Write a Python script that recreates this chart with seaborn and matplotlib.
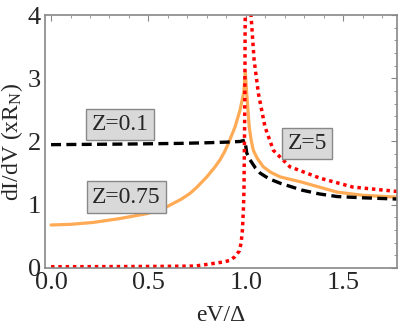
import pandas as pd
import matplotlib
matplotlib.use('Agg')
import matplotlib.pyplot as plt
import seaborn as sns
from matplotlib.ticker import MultipleLocator, FormatStrFormatter

# Values (energy in units of the gap)
e_z01 = [0.0, 0.2, 0.4, 0.66, 0.8, 0.9, 0.97, 0.996, 1.005, 1.022, 1.05, 1.074,
         1.12, 1.177, 1.29, 1.38, 1.469, 1.6, 1.777]
g_z01 = [1.95, 1.955, 1.96, 1.97, 1.98, 1.99, 2.0, 2.02, 1.82, 1.71, 1.58, 1.5,
         1.41, 1.34, 1.23, 1.17, 1.13, 1.11, 1.09]

e_z075 = [0.0, 0.1, 0.216, 0.35, 0.493, 0.577, 0.627, 0.67, 0.714, 0.75, 0.8,
          0.84, 0.868, 0.89, 0.911, 0.945, 0.971, 0.99, 0.998, 1.005, 1.018,
          1.028, 1.039, 1.06, 1.09, 1.13, 1.177, 1.285, 1.469, 1.6, 1.777]
g_z075 = [0.68, 0.69, 0.72, 0.78, 0.86, 0.94, 1.02, 1.09, 1.18, 1.28, 1.44,
          1.59, 1.71, 1.83, 1.97, 2.23, 2.5, 2.78, 3.1, 2.76, 2.23,
          2.02, 1.86, 1.73, 1.6, 1.51, 1.44, 1.36, 1.2, 1.15, 1.12]

e_z5 = [0.0, 0.3, 0.55, 0.74, 0.808, 0.885, 0.919, 0.945, 0.967, 0.976, 0.983,
        0.988, 0.991, 0.995, 0.998, 1.01, 1.027, 1.043, 1.065, 1.099, 1.142,
        1.227, 1.382, 1.55, 1.777]
g_z5 = [0.02, 0.022, 0.025, 0.03, 0.06, 0.095, 0.12, 0.18, 0.27, 0.39, 0.6,
        0.92, 1.23, 2.5, 4.5, 6.0, 4.0, 3.29, 2.76, 2.23, 1.86,
        1.6, 1.42, 1.28, 1.21]

labels = ['Z=0.1', 'Z=0.75', 'Z=5']
label_x = [0.355, 0.386, 1.315]
label_y = [2.27, 1.12, 1.97]

df01 = pd.DataFrame({'E': e_z01, 'G': g_z01})
df075 = pd.DataFrame({'E': e_z075, 'G': g_z075})
df5 = pd.DataFrame({'E': e_z5, 'G': g_z5})

sns.set_style('white')
plt.rcParams['font.family'] = ['Liberation Serif', 'DejaVu Serif']
plt.rcParams['mathtext.fontset'] = 'stix'

fig = plt.figure(figsize=(3.99, 3.32), dpi=100)
ax = fig.add_axes([0.1128, 0.1928, 0.8822, 0.762])

sns.lineplot(x='E', y='G', data=df075, ax=ax, color='#FFAA55', linewidth=2.3)
sns.lineplot(x='E', y='G', data=df01, ax=ax, color='black', linewidth=2.4,
             linestyle=(0, (3, 1.6)))
sns.lineplot(x='E', y='G', data=df5, ax=ax, color='#FF0000', linewidth=2.5,
             linestyle=(0, (1, 1.1)))

for txt, x, y in zip(labels, label_x, label_y):
    ax.text(x, y, txt, ha='center', va='center', fontsize=17,
            bbox=dict(boxstyle='square,pad=0.22', facecolor='#d9d9d9',
                      edgecolor='#888888', linewidth=1))

ax.set_xlim(-0.031, 1.777)
ax.set_ylim(0, 4)
ax.xaxis.set_major_locator(MultipleLocator(0.5))
ax.xaxis.set_minor_locator(MultipleLocator(0.1))
ax.yaxis.set_major_locator(MultipleLocator(1))
ax.yaxis.set_minor_locator(MultipleLocator(0.2))
ax.xaxis.set_major_formatter(FormatStrFormatter('%.1f'))

for s in ax.spines.values():
    s.set_color('#888888')
    s.set_linewidth(1.2)

ax.tick_params(which='both', direction='in', top=True, right=True,
               color='#888888', labelsize=19, pad=3)
ax.tick_params(which='major', length=4)
ax.tick_params(which='minor', length=2.5)

ax.set_xlabel('eV/Δ', fontsize=17, labelpad=8)
ax.set_ylabel('dI/dV (xR$_\\mathregular{N}$)', fontsize=17, labelpad=2)

fig.savefig('out.png', dpi=100)
